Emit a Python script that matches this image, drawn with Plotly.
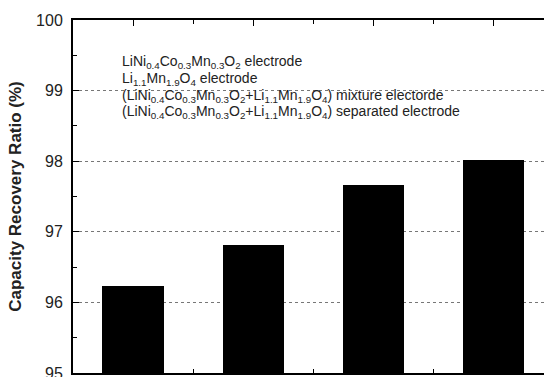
import plotly.graph_objects as go

categories = [1, 2, 3, 4]
recovery = [96.23, 96.82, 97.66, 98.01]
legend_labels = [
    "LiNi<sub>0.4</sub>Co<sub>0.3</sub>Mn<sub>0.3</sub>O<sub>2</sub> electrode",
    "Li<sub>1.1</sub>Mn<sub>1.9</sub>O<sub>4</sub> electrode",
    "(LiNi<sub>0.4</sub>Co<sub>0.3</sub>Mn<sub>0.3</sub>O<sub>2</sub>+Li<sub>1.1</sub>Mn<sub>1.9</sub>O<sub>4</sub>) mixture electorde",
    "(LiNi<sub>0.4</sub>Co<sub>0.3</sub>Mn<sub>0.3</sub>O<sub>2</sub>+Li<sub>1.1</sub>Mn<sub>1.9</sub>O<sub>4</sub>) separated electrode",
]
yticks = [95, 96, 97, 98, 99, 100]
xticks_major = [1, 2, 3, 4]
xticks_minor = [1.5, 2.5, 3.5]

fig = go.Figure()
fig.add_trace(go.Bar(x=categories, y=recovery, width=0.51,
                     marker=dict(color="black", line=dict(width=0)),
                     showlegend=False))

font = "Liberation Sans, Arial, sans-serif"
legend_y = [62, 79, 96, 112]
for lab, ypx in zip(legend_labels, legend_y):
    fig.add_annotation(text=lab, xref="paper", yref="paper",
                       x=(121 - 73) / 471, y=1 - (ypx - 20) / 353,
                       xanchor="left", yanchor="middle", showarrow=False,
                       borderpad=0,
                       font=dict(family=font, size=14, color="#222"))

fig.update_layout(
    template="none",
    width=544, height=377,
    margin=dict(l=73, r=0, t=20, b=4),
    paper_bgcolor="white", plot_bgcolor="white",
    font=dict(family=font, color="#222"),
    bargap=0,
    xaxis=dict(range=[0.5, 4.42], tickmode="array", tickvals=xticks_major,
               showticklabels=False, ticks="inside", ticklen=6, tickcolor="black",
               tickwidth=1,
               showline=True, linecolor="black", linewidth=2, mirror="ticks",
               showgrid=False, zeroline=False, automargin=False,
               minor=dict(tickmode="array", tickvals=xticks_minor, ticks="inside",
                          ticklen=4, tickcolor="black", showgrid=False)),
    yaxis=dict(range=[95, 100], tickvals=yticks, ticktext=[str(v) for v in yticks],
               ticks="inside", ticklen=6, tickcolor="black",
               ticklabeloverflow="allow", ticklabelstandoff=5,
               tickfont=dict(size=16, family=font, color="#222"),
               showline=True, linecolor="black", linewidth=2, mirror=False,
               showgrid=True, gridcolor="#777", griddash="dot", gridwidth=1,
               zeroline=False, automargin=False,
               minor=dict(dtick=0.5, tick0=95, ticks="inside", ticklen=4,
                          tickcolor="black", showgrid=False),
               title=dict(text="<b>Capacity Recovery Ratio (%)</b>", standoff=10,
                          font=dict(size=17, family=font, color="#222"))),
)

fig.write_html("out.html", config={"displayModeBar": False},
               post_script="document.body.style.margin='0';document.body.style.padding='0';")
